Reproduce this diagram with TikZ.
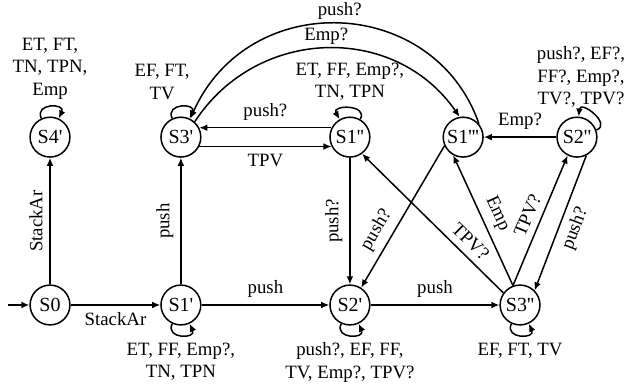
\documentclass[tikz,border=0pt]{standalone}
\usepackage{fontspec}
\newfontfamily\diagfont{Liberation Serif}
\usetikzlibrary{arrows.meta}

\begin{document}
\begin{tikzpicture}[>={Latex[length=4pt,width=3.4pt]}, line width=0.75pt,
        every node/.style={font=\diagfont\fontsize{9.4}{11.2}\selectfont},
        stnode/.style={circle, draw, minimum size=0.7cm, inner sep=0pt, font=\diagfont\fontsize{10}{12}\selectfont},
        lbl/.style={align=center}]
        \useasboundingbox (-0.879,-1.423) rectangle (10.122,5.360);

        \node[stnode] (S0) at (0,0) {S0};
        \node[stnode] (S1a) at (2.30,0) {S1'};
        \node[stnode] (S2a) at (5.27,0) {S2'};
        \node[stnode] (S3b) at (8.26,0) {S3''};
        \node[stnode] (S4a) at (0,2.95) {S4'};
        \node[stnode] (S3a) at (2.30,2.95) {S3'};
        \node[stnode] (S1b) at (5.27,2.95) {S1''};
        \node[stnode] (S1c) at (7.26,2.95) {S1'''};
        \node[stnode] (S2b) at (9.26,2.95) {S2''};
        \coordinate (init) at (-0.74,0);

        \draw[->] (init) -- (S0);
        \draw[->] (S0) -- node[below] {StackAr} (S1a);
        \draw[->] (S0) -- node[above, sloped] {StackAr} (S4a);
        \draw[->] (S1a) -- node[above, sloped] {push} (S3a);
        \draw[->] (S1a) -- node[above] {push} (S2a);
        \draw[->] (S2a) -- node[above] {push} (S3b);
        \draw[->] (S1b.153) -- node[above] {push?} (S3a.27);
        \draw[->] (S3a.-27) -- node[below] {TPV} (S1b.-153);
        \draw[->] (S2b) -- node[above] {Emp?} (S1c);
        \draw[->] (S1b) -- node[rotate=90, anchor=south] {push?} (S2a);
        \draw[->] (S1c.-155) -- node[pos=0.65, above, sloped] {push?} (S2a.57);
        \draw[->] (S3b.144) -- node[pos=0.3, above, sloped] {TPV?} (S1b.-54);
        \draw[->] (S3b.110) -- node[above, sloped] {Emp} (S1c.-119);
        \draw[->] (S3b.110) -- node[above, sloped] {TPV?} (S2b.-117);
        \draw[->] (S2b.-63) -- node[below, sloped] {push?} (S3b.45);
        \draw[->] (S1c.40) .. controls (6.75,5.45) and (3.49,5.58) .. node[above, inner sep=1.5pt] {push?} (S3a.63);
        \draw[->] (S3a.48) .. controls (3.64,4.90) and (6.06,4.95) .. node[above, inner sep=1.5pt] {Emp?} (S1c.100);

        % self loops
        \draw[->] (S4a.115) .. controls +(115:0.3) and +(65:0.3) .. node[above, lbl] {ET, FT,\\TN, TPN,\\Emp} (S4a.65);
        \draw[->] (S3a.115) .. controls +(115:0.3) and +(65:0.3) .. node[above, lbl, xshift=-0.33cm] {EF, FT,\\TV} (S3a.65);
        \draw[->] (S1b.60) .. controls +(60:0.3) and +(120:0.3) .. node[above, lbl] {ET, FF, Emp?,\\TN, TPN} (S1b.120);
        \draw[->] (S2b.20) .. controls +(20:0.3) and +(85:0.3) .. node[above, lbl, xshift=-0.23cm] {push?, EF?,\\FF?, Emp?,\\TV?, TPV?} (S2b.85);
        \draw[->] (S1a.-115) .. controls +(-115:0.3) and +(-65:0.3) .. node[below, lbl] {ET, FF, Emp?,\\TN, TPN} (S1a.-65);
        \draw[->] (S2a.-115) .. controls +(-115:0.3) and +(-65:0.3) .. node[below, lbl] {push?, EF, FF,\\TV, Emp?, TPV?} (S2a.-65);
        \draw[->] (S3b.-115) .. controls +(-115:0.3) and +(-65:0.3) .. node[below, lbl] {EF, FT, TV} (S3b.-65);
    \end{tikzpicture}
\end{document}
